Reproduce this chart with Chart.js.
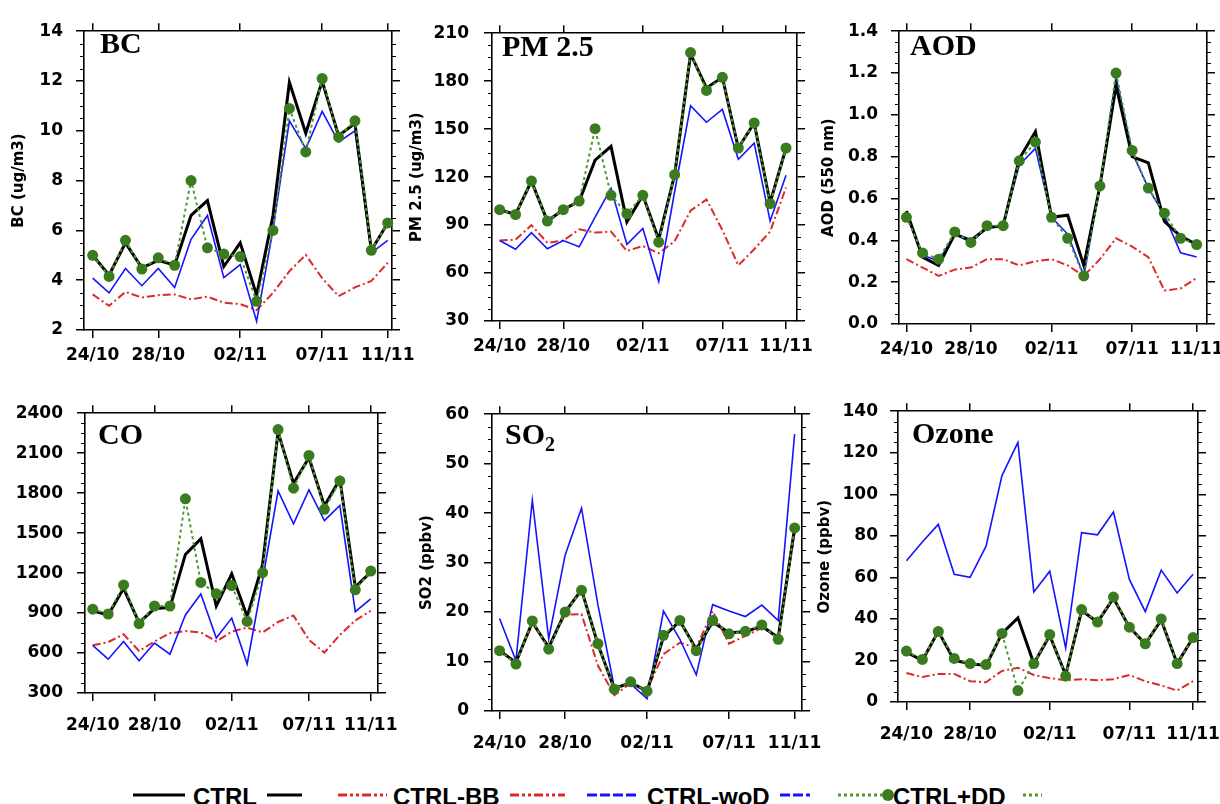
<!DOCTYPE html>
<html><head><meta charset="utf-8">
<script src="https://cdn.jsdelivr.net/npm/chart.js@4.4.0/dist/chart.umd.min.js"></script>
<style>
html,body{margin:0;padding:0;background:#fff}
body{width:1220px;height:804px;overflow:hidden;position:relative}
canvas{position:absolute}
.ttl{position:absolute;font:bold 30px "Liberation Serif","Times New Roman",serif;color:#000;line-height:30px;white-space:nowrap;z-index:5}
.ttl span{font-size:20px;position:relative;top:7px}
.lt{position:absolute;top:785px;font:bold 24px "Liberation Sans",Arial,sans-serif;line-height:24px;color:#000;white-space:nowrap}
svg{position:absolute;left:0;top:0}
</style></head><body>
<script>
// ---- data ----
const days = ['24/10','25/10','26/10','27/10','28/10','29/10','30/10','31/10','01/11','02/11','03/11','04/11','05/11','06/11','07/11','08/11','09/11','10/11','11/11'];
const tickIdx = [0, 4, 9, 14, 18];
const seriesNames = ['CTRL', 'CTRL-BB', 'CTRL-woD', 'CTRL+DD'];

const bcCTRL = [5.0, 4.2, 5.5, 4.5, 4.8, 4.6, 6.6, 7.2, 4.55, 5.5, 3.4, 6.6, 11.95, 9.9, 12.0, 9.8, 10.3, 5.2, 6.3];
const bcBB   = [3.43, 2.97, 3.53, 3.3, 3.4, 3.43, 3.23, 3.34, 3.1, 3.04, 2.8, 3.49, 4.36, 5.02, 4.08, 3.36, 3.71, 3.97, 4.7];
const bcWoD  = [4.08, 3.49, 4.47, 3.78, 4.47, 3.71, 5.64, 6.6, 4.1, 4.63, 2.35, 6.03, 10.4, 9.29, 10.78, 9.55, 10.0, 5.1, 5.6];
const bcDD   = [5.0, 4.15, 5.6, 4.45, 4.9, 4.6, 8.0, 5.3, 5.05, 4.95, 3.15, 6.0, 10.9, 9.15, 12.1, 9.75, 10.4, 5.2, 6.3];

const pmCTRL = [99.6, 96.6, 117.5, 92.5, 99.6, 105, 130.6, 139.2, 92, 108.6, 81, 121.5, 197, 175.8, 182.4, 138.2, 153.9, 104, 138.2];
const pmBB   = [80.3, 80.9, 89.9, 78.9, 80.3, 87.3, 85.3, 85.9, 73.8, 76.9, 72.4, 79.9, 99, 106, 86.9, 64.8, 74.9, 85.9, 113.5];
const pmWoD  = [80.3, 74.9, 85.3, 75.2, 80.3, 76.4, 95, 113, 77.9, 87.9, 54.7, 111, 164.7, 154.3, 162.3, 131.2, 141.2, 92.5, 121.1];
const pmDD   = [99.6, 96.6, 117.5, 92.5, 99.6, 105, 150.3, 108.6, 97, 108.6, 79.3, 121.5, 197.9, 174.2, 182.4, 138.2, 153.9, 103.4, 138.2];

const aodCTRL = [0.54, 0.32, 0.28, 0.43, 0.40, 0.46, 0.47, 0.79, 0.92, 0.51, 0.52, 0.28, 0.66, 1.14, 0.80, 0.77, 0.49, 0.42, 0.38];
const aodBB   = [0.31, 0.27, 0.23, 0.26, 0.27, 0.31, 0.31, 0.28, 0.30, 0.31, 0.28, 0.23, 0.31, 0.41, 0.37, 0.32, 0.16, 0.17, 0.22];
const aodWoD  = [0.52, 0.33, 0.30, 0.43, 0.39, 0.46, 0.47, 0.76, 0.84, 0.51, 0.43, 0.23, 0.66, 1.18, 0.82, 0.65, 0.52, 0.34, 0.32];
const aodDD   = [0.51, 0.34, 0.31, 0.44, 0.39, 0.47, 0.47, 0.78, 0.87, 0.51, 0.41, 0.23, 0.66, 1.20, 0.83, 0.65, 0.53, 0.41, 0.38];

const coCTRL = [917, 885, 1086, 828, 934, 941, 1340, 1457, 953, 1195, 875, 1265, 2260, 1873, 2066, 1703, 1905, 1095, 1207];
const coBB   = [658, 682, 741, 615, 687, 748, 765, 755, 687, 760, 791, 755, 833, 881, 699, 603, 736, 845, 917];
const coWoD  = [658, 554, 687, 542, 675, 591, 886, 1043, 712, 862, 518, 1150, 1817, 1570, 1824, 1594, 1708, 910, 1007];
const coDD   = [929, 893, 1111, 820, 953, 953, 1757, 1130, 1045, 1106, 837, 1203, 2277, 1837, 2083, 1679, 1892, 1074, 1215];

const so2CTRL = [12.2, 9.8, 18.0, 12.8, 20.0, 24.5, 13.5, 4.5, 5.8, 4.0, 15.0, 18.2, 12.5, 18.0, 15.8, 16.0, 17.2, 14.8, 37.0];
const so2BB   = [12.0, 10.0, 17.6, 13.2, 19.5, 19.6, 9.2, 3.2, 5.6, 4.3, 11.5, 13.8, 12.8, 20.2, 13.6, 15.2, 16.8, 15.0, 36.0];
const so2WoD  = [18.7, 10.2, 42.6, 14.6, 31.5, 41.0, 21.5, 4.8, 5.5, 2.5, 20.2, 14.5, 7.3, 21.5, 20.2, 19.1, 21.4, 18.3, 56.0];
const so2DD   = [12.2, 9.5, 18.2, 12.5, 20.0, 24.4, 13.6, 4.4, 5.9, 4.0, 15.3, 18.3, 12.2, 18.3, 15.6, 16.1, 17.4, 14.5, 37.0];

const o3CTRL = [24, 20, 34, 20, 18.5, 17.5, 33, 40.5, 18.5, 32, 13, 44, 38.5, 50, 36, 28, 39.5, 18.5, 31];
const o3BB   = [14, 12, 13.5, 13.5, 10, 9.5, 15, 16.5, 13, 11.5, 10.5, 11, 10.5, 11, 13, 10, 8, 5.5, 10];
const o3WoD  = [68, 77, 85.5, 61.5, 60, 75, 109, 125, 53, 63, 26, 81.5, 80.5, 91.5, 59, 43.5, 63.5, 52.5, 61.5];
const o3DD   = [24.5, 20.5, 34, 21, 18.5, 18, 33, 5.5, 18.5, 32.5, 12.5, 44.5, 38.5, 50.5, 36, 28, 40, 18.5, 31];

// ---- layout (positions only) ----
const panels = [
  {name:'BC', sub:'', L:84, T:23, R:392, B:330, xmin:-0.53, xmax:18.26, ymin:2, ymax:14, step:2, dec:0, ytitle:'BC (ug/m3)', titleX:19, ypad:13, xpad:7, tx:100, ty:28, series:[bcCTRL, bcBB, bcWoD, bcDD]},
  {name:'PM 2.5', sub:'', L:492, T:23, R:797, B:321, xmin:-0.48, xmax:18.69, ymin:30, ymax:210, step:30, dec:0, ytitle:'PM 2.5 (ug/m3)', titleX:416.5, ypad:15, xpad:7, tx:502, ty:31, series:[pmCTRL, pmBB, pmWoD, pmDD]},
  {name:'AOD', sub:'', L:899, T:23, R:1207, B:324, xmin:-0.46, xmax:18.64, ymin:0, ymax:1.4, step:0.2, dec:1, ytitle:'AOD (550 nm)', titleX:829, ypad:13, xpad:7, tx:910, ty:30, series:[aodCTRL, aodBB, aodWoD, aodDD]},
  {name:'CO', sub:'', L:85, T:404, R:378, B:693, xmin:-0.5, xmax:18.47, ymin:300, ymax:2400, step:300, dec:0, ytitle:'', titleX:0, ypad:14, xpad:14, tx:98, ty:419, series:[coCTRL, coBB, coWoD, coDD]},
  {name:'SO', sub:'2', L:492, T:404, R:802, B:711, xmin:-0.46, xmax:18.45, ymin:0, ymax:60, step:10, dec:0, ytitle:'SO2 (ppbv)', titleX:426.5, ypad:15, xpad:14, tx:505, ty:419, series:[so2CTRL, so2BB, so2WoD, so2DD]},
  {name:'Ozone', sub:'', L:898, T:404, R:1198, B:702, xmin:-0.53, xmax:18.31, ymin:0, ymax:140, step:20, dec:0, ytitle:'Ozone (ppbv)', titleX:825, ypad:12, xpad:14, tx:912, ty:418, series:[o3CTRL, o3BB, o3WoD, o3DD]}
];

const styles = [
  {color:'#000000', width:3, dash:[], order:1},
  {color:'#dc2a2a', width:2, dash:[8,3,2,3], order:3},
  {color:'#1414ff', width:1.6, dash:[], order:2},
  {color:'#4f9a2e', width:2, dash:[3,3], order:0, point:'#3b7b1f'}
];

const TOPH = 15, RIGHTW = 40, BOTH = 55;
const tickFont = {family:'"DejaVu Sans", Verdana, sans-serif', weight:'bold', size:17};
const TITLE_SIZE = 15;

const minorTicks = {
  id:'minorTicks',
  afterDraw(chart, args, opts) {
    const y = chart.scales.y, ca = chart.chartArea, ctx = chart.ctx;
    const minor = opts.step / 4;
    const n = Math.round((y.max - y.min) / minor);
    ctx.save();
    ctx.strokeStyle = '#000'; ctx.lineWidth = 1.2;
    ctx.beginPath();
    for (let k = 0; k <= n; k++) {
      if (k % 4 === 0) continue;
      const py = Math.round(y.getPixelForValue(y.min + k * minor)) + 0.5;
      ctx.moveTo(ca.left - 4, py); ctx.lineTo(ca.left, py);
      ctx.moveTo(ca.right, py); ctx.lineTo(ca.right + 4, py);
    }
    ctx.stroke();
    ctx.restore();
  }
};

function gridOpts() {
  return {drawOnChartArea:false, drawTicks:true, tickLength:8, color:'#000', lineWidth:1.5};
}
function borderOpts() { return {display:true, color:'#000', width:1.6}; }

panels.forEach(p => {
  const canvasLeft = p.ytitle ? Math.round(p.titleX - TITLE_SIZE * 0.6) : p.L - 80;
  const canvasTop = p.T - TOPH;
  const w = p.R + RIGHTW - canvasLeft;
  const h = (p.B - p.T) + TOPH + BOTH;
  const cv = document.createElement('canvas');
  cv.width = w; cv.height = h;
  cv.style.left = canvasLeft + 'px'; cv.style.top = canvasTop + 'px';
  cv.style.width = w + 'px'; cv.style.height = h + 'px';
  document.body.appendChild(cv);
  const yW = p.L - canvasLeft;

  const datasets = p.series.map((vals, si) => {
    const st = styles[si];
    return {
      label: seriesNames[si],
      data: vals.map((v, i) => ({x:i, y:v})),
      borderColor: st.color, borderWidth: st.width, borderDash: st.dash,
      backgroundColor: st.color, fill:false, tension:0, order: st.order,
      pointRadius: st.point ? 5.5 : 0, pointBackgroundColor: st.point || st.color,
      pointBorderWidth: 0, pointHoverRadius: 0, clip: false
    };
  });

  const xBase = {
    type:'linear', min:p.xmin, max:p.xmax,
    afterBuildTicks: s => { s.ticks = tickIdx.map(v => ({value:v})); },
    grid: gridOpts(), border: borderOpts()
  };
  const yBase = {
    type:'linear', min:p.ymin, max:p.ymax,
    grid: gridOpts(), border: borderOpts()
  };

  new Chart(cv, {
    type:'line',
    data:{datasets},
    plugins:[minorTicks],
    options:{
      responsive:false, animation:false, devicePixelRatio:1,
      layout:{padding:0},
      events:[],
      plugins:{legend:{display:false}, tooltip:{enabled:false}, minorTicks:{step:p.step}},
      scales:{
        x: Object.assign({}, xBase, {
          position:'bottom',
          afterFit: s => { s.height = BOTH; },
          ticks:{font:tickFont, color:'#000', padding:p.xpad, maxRotation:0, autoSkip:false,
                 callback: v => days[v]}
        }),
        x2: Object.assign({}, xBase, {
          position:'top',
          afterFit: s => { s.height = TOPH; },
          ticks:{display:false}
        }),
        y: Object.assign({}, yBase, {
          position:'left',
          afterFit: s => { s.width = yW; },
          ticks:{font:tickFont, color:'#000', padding:p.ypad, stepSize:p.step,
                 callback: v => v.toFixed(p.dec)},
          title:{display: !!p.ytitle, text:p.ytitle, color:'#000',
                 font:{family:'"DejaVu Sans", Verdana, sans-serif', weight:'bold', size:TITLE_SIZE},
                 padding:{top:0, bottom:0}}
        }),
        y2: Object.assign({}, yBase, {
          position:'right',
          afterFit: s => { s.width = RIGHTW; },
          ticks:{display:false, stepSize:p.step}
        })
      }
    }
  });

  const t = document.createElement('div');
  t.className = 'ttl';
  t.style.left = p.tx + 'px'; t.style.top = p.ty + 'px';
  t.textContent = p.name;
  if (p.sub) { const s = document.createElement('span'); s.textContent = p.sub; t.appendChild(s); }
  document.body.appendChild(t);
});

// ---- legend ----
const legendItems = [
  {text:'CTRL',     textX:193, pre:[133,185], post:[267,302], style:0},
  {text:'CTRL-BB',  textX:393, pre:[338,387], post:[510,565], style:1},
  {text:'CTRL-woD', textX:647, pre:[587,637], post:[780,810], style:2},
  {text:'CTRL+DD',  textX:893, pre:[838,882], post:[1023,1042], style:3, marker:888}
];
const legendDash = [[], [9,3,3,3,3,3], [10,3], [3,3]];
const NS = 'http://www.w3.org/2000/svg';
const svg = document.createElementNS(NS, 'svg');
svg.setAttribute('width', 1220); svg.setAttribute('height', 804);
const LY = 795;
legendItems.forEach(it => {
  const st = styles[it.style];
  [it.pre, it.post].forEach(seg => {
    const ln = document.createElementNS(NS, 'line');
    ln.setAttribute('x1', seg[0]); ln.setAttribute('x2', seg[1]);
    ln.setAttribute('y1', LY); ln.setAttribute('y2', LY);
    ln.setAttribute('stroke', st.color);
    ln.setAttribute('stroke-width', it.style === 0 ? 3.2 : 3);
    if (legendDash[it.style].length) ln.setAttribute('stroke-dasharray', legendDash[it.style].join(' '));
    svg.appendChild(ln);
  });
  if (it.marker) {
    const c = document.createElementNS(NS, 'circle');
    c.setAttribute('cx', it.marker); c.setAttribute('cy', LY); c.setAttribute('r', 6);
    c.setAttribute('fill', st.point);
    svg.appendChild(c);
  }
  const d = document.createElement('div');
  d.className = 'lt'; d.style.left = it.textX + 'px'; d.textContent = it.text;
  document.body.appendChild(d);
});
document.body.appendChild(svg);
</script>
</body></html>
